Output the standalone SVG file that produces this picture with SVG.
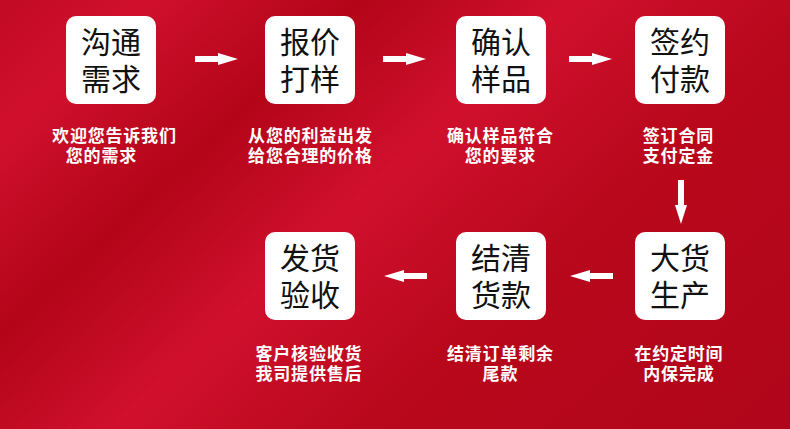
<svg xmlns="http://www.w3.org/2000/svg" width="790" height="429" viewBox="0 0 790 429">
<defs>
<linearGradient id="bg" gradientUnits="userSpaceOnUse" x1="0" y1="0" x2="578" y2="620">
<stop offset="0" stop-color="#c20a23"/>
<stop offset="0.12" stop-color="#d0102d"/>
<stop offset="0.29" stop-color="#b30518"/>
<stop offset="0.46" stop-color="#d0102d"/>
<stop offset="0.66" stop-color="#b9081c"/>
<stop offset="1" stop-color="#b0051a"/>
</linearGradient>
<style>
.box{fill:#ffffff}
.nt{font-family:"Liberation Sans","Noto Sans CJK SC",sans-serif;font-size:30px;fill:#111111;text-anchor:middle}
.lb{font-family:"Liberation Sans","Noto Sans CJK SC",sans-serif;font-size:17px;letter-spacing:0.8px;font-weight:bold;fill:#ffffff;text-anchor:middle}
.arrow{fill:#ffffff}
</style>
</defs>
<rect x="0" y="0" width="790" height="429" fill="url(#bg)"/>

<g id="node-goutong">
<rect class="box" x="66" y="16" width="90" height="88" rx="10"/>
<text class="nt"><tspan x="111" y="53">沟通</tspan><tspan x="111" y="90">需求</tspan></text>
<text class="lb"><tspan x="114.4" y="142">欢迎您告诉我们</tspan><tspan x="101.4" y="162">您的需求</tspan></text>
</g>

<g id="node-baojia">
<rect class="box" x="265" y="16" width="90" height="88" rx="10"/>
<text class="nt"><tspan x="310" y="53">报价</tspan><tspan x="310" y="90">打样</tspan></text>
<text class="lb"><tspan x="310.4" y="142">从您的利益出发</tspan><tspan x="310.4" y="162">给您合理的价格</tspan></text>
</g>

<g id="node-queren">
<rect class="box" x="456" y="16" width="90" height="88" rx="10"/>
<text class="nt"><tspan x="501" y="53">确认</tspan><tspan x="501" y="90">样品</tspan></text>
<text class="lb"><tspan x="500.4" y="142">确认样品符合</tspan><tspan x="500.4" y="162">您的要求</tspan></text>
</g>

<g id="node-qianyue">
<rect class="box" x="635" y="16" width="90" height="88" rx="10"/>
<text class="nt"><tspan x="680" y="53">签约</tspan><tspan x="680" y="90">付款</tspan></text>
<text class="lb"><tspan x="678.4" y="142">签订合同</tspan><tspan x="678.4" y="162">支付定金</tspan></text>
</g>

<g id="node-shengchan">
<rect class="box" x="635" y="232" width="90" height="88" rx="10"/>
<text class="nt"><tspan x="680" y="269">大货</tspan><tspan x="680" y="306">生产</tspan></text>
<text class="lb"><tspan x="678.9" y="360">在约定时间</tspan><tspan x="678.9" y="380">内保完成</tspan></text>
</g>

<g id="node-jieqing">
<rect class="box" x="456" y="232" width="90" height="88" rx="10"/>
<text class="nt"><tspan x="501" y="269">结清</tspan><tspan x="501" y="306">货款</tspan></text>
<text class="lb"><tspan x="500.4" y="360">结清订单剩余</tspan><tspan x="500.4" y="380">尾款</tspan></text>
</g>

<g id="node-fahuo">
<rect class="box" x="265" y="232" width="90" height="88" rx="10"/>
<text class="nt"><tspan x="310" y="269">发货</tspan><tspan x="310" y="306">验收</tspan></text>
<text class="lb"><tspan x="308.9" y="360">客户核验收货</tspan><tspan x="308.9" y="380">我司提供售后</tspan></text>
</g>

<g id="connectors">
<path class="arrow" d="M195 56 H218 V53 L238 59 L218 65 V62 H195 Z"/>
<path class="arrow" d="M383 56 H406 V53 L426 59 L406 65 V62 H383 Z"/>
<path class="arrow" d="M569 56 H592 V53 L612 59 L592 65 V62 H569 Z"/>
<path class="arrow" d="M678 180 V205 H675 L681 224 L687 205 H684 V180 Z"/>
<path class="arrow" d="M613 273 H590 V270 L570 276 L590 282 V279 H613 Z"/>
<path class="arrow" d="M427 273 H404 V270 L384 276 L404 282 V279 H427 Z"/>
</g>
</svg>
